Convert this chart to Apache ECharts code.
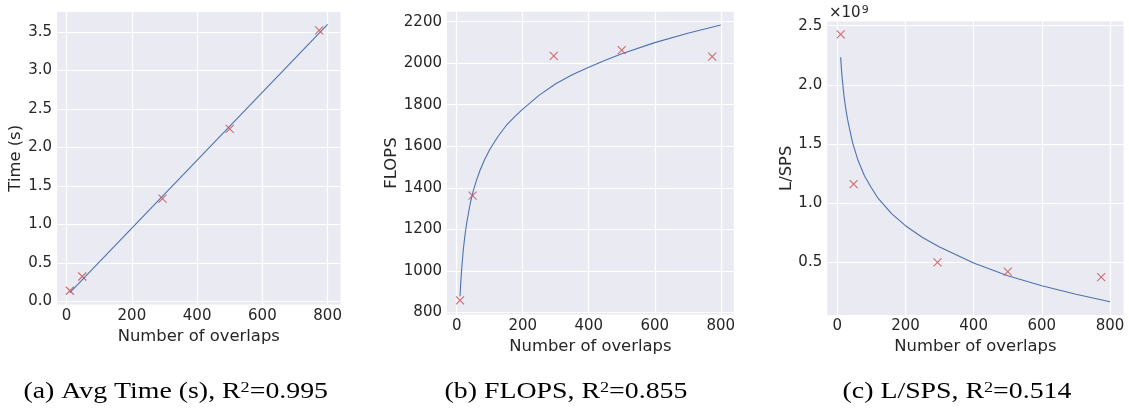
<!DOCTYPE html>
<html>
<head>
<meta charset="utf-8">
<script src="https://cdn.jsdelivr.net/npm/echarts@6/dist/echarts.min.js"></script>
<style>
  html, body { margin: 0; padding: 0; background: #fff; }
  #chart { width: 1129px; height: 410px; }
</style>
</head>
<body>
<div id="chart"></div>
<script>
// measured points
const overlaps = [10, 48, 294, 500, 774]
const avgTime = [0.14, 0.325, 1.335, 2.243, 3.52]
const flops = [858, 1362, 2035, 2063, 2032]
const lsps = [2.427, 1.162, 0.50, 0.421, 0.376] // x 1e9

// fitted curves
const timeFitX = [10, 800]
const timeFitY = [0.115, 3.60]
const flopsFitX = [10, 12, 15, 20, 25, 30, 40, 50, 60, 70, 85, 100, 125, 150, 175, 200, 250, 300, 350, 400, 450, 500, 600, 700, 800]
const flopsFitY = [877, 937, 1010, 1104, 1172, 1228, 1317, 1385, 1437, 1482, 1537, 1584, 1647, 1700, 1741, 1779, 1846, 1901, 1944, 1980, 2014, 2045, 2099, 2144, 2184]
const lspsFitX = [10, 12, 15, 20, 25, 30, 45, 60, 80, 100, 120, 160, 200, 250, 300, 400, 500, 600, 700, 800]
const lspsFitY = [2.234, 2.14, 2.04, 1.90, 1.80, 1.71, 1.51, 1.37, 1.23, 1.13, 1.04, 0.91, 0.81, 0.71, 0.63, 0.495, 0.387, 0.302, 0.23, 0.167]

// tick labels
const xTicks = [0, 200, 400, 600, 800]
const timeTicks = [0, 0.5, 1.0, 1.5, 2.0, 2.5, 3.0, 3.5]
const flopsTicks = [800, 1000, 1200, 1400, 1600, 1800, 2000, 2200]
const lspsTicks = [0.5, 1.0, 1.5, 2.0, 2.5]

const captions = ['(a) Avg Time (s), R{s|2}=0.995', '(b) FLOPS, R{s|2}=0.855', '(c) L/SPS, R{s|2}=0.514']

const txt = '#262626'
const font = 'DejaVu Sans'

function pairs(xs, ys) {
  return xs.map((x, i) => [x, ys[i]])
}

function xAxis(idx) {
  return {
    type: 'value',
    gridIndex: idx,
    min: -29.5,
    max: 839.5,
    name: 'Number of overlaps',
    nameLocation: 'middle',
    nameGap: 20,
    nameTextStyle: { color: txt, fontSize: 16.4, fontFamily: font },
    axisLine: { show: false },
    axisTick: { show: false, customValues: xTicks },
    axisLabel: { customValues: xTicks, color: txt, fontSize: 15, fontFamily: font, margin: 4 },
    splitLine: { show: true, lineStyle: { color: '#fff', width: 1.2 } }
  }
}

function yAxis(idx, name, min, max, ticks, gap, fmt) {
  return {
    type: 'value',
    gridIndex: idx,
    min: min,
    max: max,
    name: name,
    nameLocation: 'middle',
    nameGap: gap,
    nameTextStyle: { color: txt, fontSize: 16.4, fontFamily: font },
    axisLine: { show: false },
    axisTick: { show: false, customValues: ticks },
    axisLabel: { customValues: ticks, color: txt, fontSize: 15, fontFamily: font, margin: 5, formatter: fmt },
    splitLine: { show: true, lineStyle: { color: '#fff', width: 1.2 } }
  }
}

function fitLine(idx, data) {
  return {
    type: 'line',
    xAxisIndex: idx,
    yAxisIndex: idx,
    data: data,
    showSymbol: false,
    smooth: false,
    lineStyle: { color: '#4C72B0', width: 1.1 },
    z: 2
  }
}

function marks(idx, data) {
  return {
    type: 'scatter',
    xAxisIndex: idx,
    yAxisIndex: idx,
    data: data,
    symbol: 'path://M0,0L10,10M10,0L0,10',
    symbolSize: 8,
    itemStyle: { color: '#C44E52', borderColor: '#C44E52', borderWidth: 1.1 },
    z: 3
  }
}

const chart = echarts.init(document.getElementById('chart'))
chart.setOption({
  animation: false,
  backgroundColor: '#fff',
  grid: [
    { left: 57, top: 12, width: 283.5, height: 292.6, show: true, backgroundColor: '#EAEAF2', borderWidth: 0 },
    { left: 447, top: 11.7, width: 286.8, height: 302.7, show: true, backgroundColor: '#EAEAF2', borderWidth: 0 },
    { left: 827.2, top: 21.6, width: 296.3, height: 293.4, show: true, backgroundColor: '#EAEAF2', borderWidth: 0 }
  ],
  xAxis: [xAxis(0), xAxis(1), xAxis(2)],
  yAxis: [
    yAxis(0, 'Time (s)', -0.04, 3.76, timeTicks, 29, v => v.toFixed(1)),
    yAxis(1, 'FLOPS', 790, 2248, flopsTicks, 45, v => String(v)),
    yAxis(2, 'L/SPS', 0.055, 2.535, lspsTicks, 31, v => v.toFixed(1))
  ],
  series: [
    fitLine(0, pairs(timeFitX, timeFitY)),
    marks(0, pairs(overlaps, avgTime)),
    fitLine(1, pairs(flopsFitX, flopsFitY)),
    marks(1, pairs(overlaps, flops)),
    fitLine(2, pairs(lspsFitX, lspsFitY)),
    marks(2, pairs(overlaps, lsps))
  ],
  graphic: [
    {
      type: 'text', x: 829, y: 13,
      style: {
        text: '×10{s|9}', fill: txt, font: '15px "DejaVu Sans"', textAlign: 'left', textVerticalAlign: 'middle',
        rich: { s: { fontSize: 11, fontFamily: font, fill: txt, verticalAlign: 'top', padding: [0, 0, 6, 1] } }
      }
    },
    ...captions.map((c, i) => ({
      type: 'text',
      x: [175.7, 566, 957][i],
      y: 392,
      scaleX: 1.21,
      style: {
        text: c, fill: '#000', font: '23px "Liberation Serif"', textAlign: 'center', textVerticalAlign: 'middle',
        rich: { s: { fontSize: 15, fontFamily: 'Liberation Serif', fill: '#000', verticalAlign: 'top', padding: [0, 0, 8, 0] } }
      }
    }))
  ]
})
</script>
</body>
</html>
